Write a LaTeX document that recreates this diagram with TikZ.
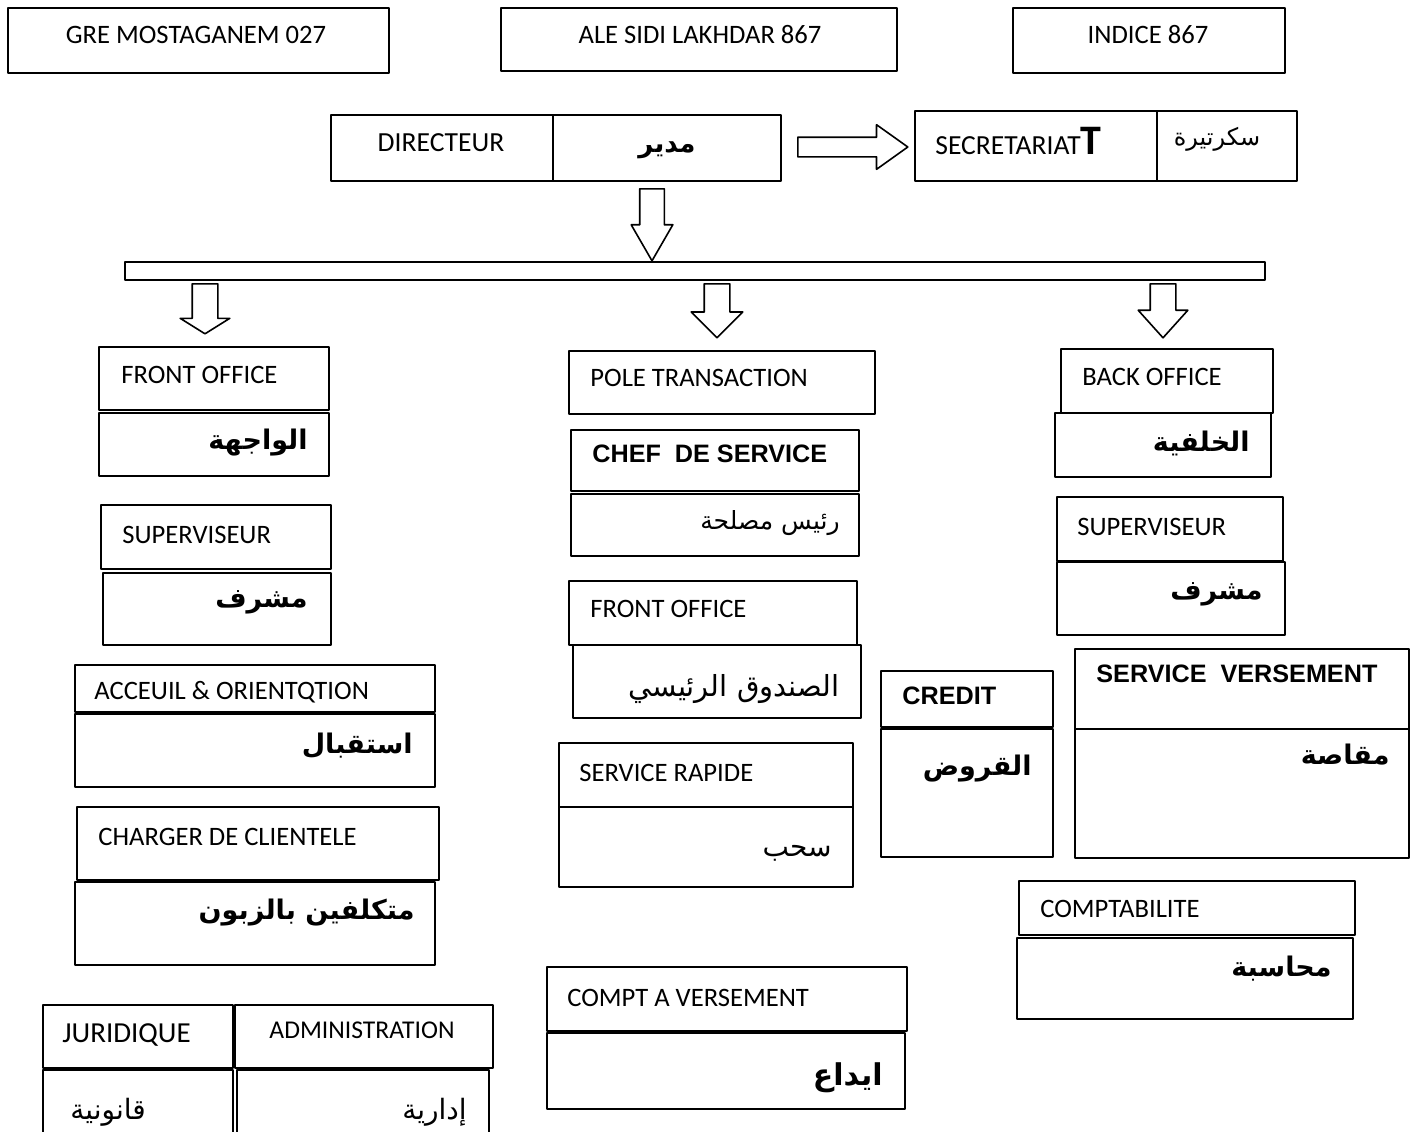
\documentclass[tikz,border=0pt]{standalone}
\usepackage{fontspec}
\setmainfont{Carlito}
\newfontfamily\arialfont{Liberation Sans}
\newfontfamily\arabicfont[Script=Arabic]{DejaVu Sans}
\TeXXeTstate=1
\usetikzlibrary{fit,shapes.arrows}
\newcommand{\ar}[1]{{\arabicfont\beginR #1\endR}}
\tikzset{
	boite/.style={draw, line width=1pt, inner sep=0pt, rectangle},
	lat/.style={font=\fontsize{13.3}{15}\selectfont, inner sep=0pt, anchor=west},
	gras/.style={font=\fontsize{12.6}{14}\selectfont\arialfont\bfseries, inner sep=0pt, anchor=west},
	arb/.style={font=\fontsize{13.5}{16}\selectfont\bfseries, inner sep=0pt, anchor=east},
	arn/.style={font=\fontsize{12.5}{16}\selectfont, inner sep=0pt, anchor=east},
	fleche/.style={draw, line width=0.8pt, single arrow, single arrow head indent=0pt, anchor=tail},
}
\begin{document}
\begin{tikzpicture}[x=0.5pt, y=-0.5pt, line cap=round, line join=round]
	\useasboundingbox (0,0) rectangle (1412,1131);
	\clip (0,0) rectangle (1412,1131);
	% En-tete
	\node[boite, fit={(8,8)(389,73)}] (gre) {};
	\node[lat, anchor=center] (greT) at (196,35) {GRE MOSTAGANEM 027};
	\node[boite, fit={(501,8)(897,71)}] (ale) {};
	\node[lat, anchor=center] (aleT) at (700,35) {ALE SIDI LAKHDAR 867};
	\node[boite, fit={(1013,8)(1285,73)}] (ind) {};
	\node[lat, anchor=center] (indT) at (1148,35) {INDICE 867};
	% Directeur et secretariat
	\node[boite, fit={(331,115)(553,181)}] (dir) {};
	\node[lat, anchor=center, font=\fontsize{13.8}{15}\selectfont] (dirT) at (441,143) {DIRECTEUR};
	\node[boite, fit={(553,115)(781,181)}] (dirA) {};
	\node[arb, anchor=center, font=\fontsize{13}{16}\selectfont\bfseries] (dirAT) at (667,150) {\ar{مدير}};
	\node[boite, fit={(915,111)(1157,181)}] (sec) {};
	\node[lat, anchor=base west, font=\fontsize{13.8}{15}\selectfont] (secT) at (935,154) {SECRETARIAT{\fontsize{21}{22}\selectfont\bfseries T}};
	\node[boite, fit={(1157,111)(1297,181)}] (secA) {};
	\node[arn, anchor=center, font=\fontsize{12}{15}\selectfont] (secAT) at (1217,139) {\ar{سكرتيرة}};
	% Fleches
	\node[fleche, shape border rotate=0, inner sep=4.5pt, minimum height=55pt, minimum width=21.5pt, single arrow head extend=6.25pt, single arrow tip angle=71] (f0) at (797,147) {};
	\node[fleche, shape border rotate=270, inner sep=5.75pt, minimum height=36pt, minimum width=20pt, single arrow head extend=4.25pt, single arrow tip angle=60] (f1) at (652,188) {};
	\node[boite, fit={(125,262)(1265,280)}] (barre) {};
	\node[fleche, shape border rotate=270, inner sep=6pt, minimum height=25pt, minimum width=24pt, single arrow head extend=6pt, single arrow tip angle=116] (f2) at (205,283) {};
	\node[fleche, shape border rotate=270, inner sep=6pt, minimum height=27pt, minimum width=25pt, single arrow head extend=6.5pt, single arrow tip angle=90] (f3) at (717,283) {};
	\node[fleche, shape border rotate=270, inner sep=6pt, minimum height=27pt, minimum width=24pt, single arrow head extend=6pt, single arrow tip angle=84] (f4) at (1163,283) {};
	% Colonne gauche
	\node[boite, fit={(99,347)(329,410)}] (fo1) {};
	\node[lat] (fo1T) at (121,375) {FRONT OFFICE};
	\node[boite, fit={(99,413)(329,476)}] (fo1A) {};
	\node[arb] (fo1AT) at (308,443) {\ar{الواجهة}};
	\node[boite, fit={(101,505)(331,569)}] (sup1) {};
	\node[lat] (sup1T) at (122,535) {SUPERVISEUR};
	\node[boite, fit={(103,573)(331,645)}] (sup1A) {};
	\node[arb] (sup1AT) at (308,602) {\ar{مشرف}};
	\node[boite, fit={(75,665)(435,712)}] (acc) {};
	\node[lat] (accT) at (94,692) {ACCEUIL \& ORIENTQTION};
	\node[boite, fit={(75,714)(435,787)}] (accA) {};
	\node[arb] (accAT) at (413,746) {\ar{استقبال}};
	\node[boite, fit={(77,807)(439,880)}] (chg) {};
	\node[lat] (chgT) at (98,837) {CHARGER DE CLIENTELE};
	\node[boite, fit={(75,882)(435,965)}] (chgA) {};
	\node[arb] (chgAT) at (415,913) {\ar{متكلفين بالزبون}};
	\node[boite, fit={(43,1005)(233,1068)}] (jur) {};
	\node[lat, font=\fontsize{14.5}{16}\selectfont] (jurT) at (62,1035) {JURIDIQUE};
	\node[boite, fit={(235,1005)(493,1068)}] (adm) {};
	\node[lat, anchor=center, font=\fontsize{12.8}{15}\selectfont] (admT) at (362,1030) {ADMINISTRATION};
	\node[boite, fit={(43,1070)(233,1150)}] (jurA) {};
	\node[arn, anchor=center, font=\fontsize{14}{16}\selectfont] (jurAT) at (108,1112) {\ar{قانونية}};
	\node[boite, fit={(237,1070)(489,1150)}] (admA) {};
	\node[arn, font=\fontsize{14}{16}\selectfont] (admAT) at (467,1112) {\ar{إدارية}};
	% Colonne centrale
	\node[boite, fit={(569,351)(875,414)}] (pole) {};
	\node[lat] (poleT) at (590,378) {POLE TRANSACTION};
	\node[boite, fit={(571,430)(859,491)}] (chef) {};
	\node[gras] (chefT) at (592,454) {CHEF\ \ DE SERVICE};
	\node[boite, fit={(571,494)(859,556)}] (chefA) {};
	\node[arn] (chefAT) at (840,523) {\ar{رئيس مصلحة}};
	\node[boite, fit={(569,581)(857,645)}] (fo2) {};
	\node[lat] (fo2T) at (590,609) {FRONT OFFICE};
	\node[boite, fit={(573,645)(861,718)}] (fo2A) {};
	\node[arn, font=\fontsize{14.5}{18}\selectfont] (fo2AT) at (840,689) {\ar{الصندوق الرئيسي}};
	\node[boite, fit={(559,743)(853,807)}] (rap) {};
	\node[lat] (rapT) at (579,773) {SERVICE RAPIDE};
	\node[boite, fit={(559,807)(853,887)}] (rapA) {};
	\node[arn, font=\fontsize{14}{16}\selectfont] (rapAT) at (832,853) {\ar{سحب}};
	\node[boite, fit={(547,967)(907,1031)}] (cav) {};
	\node[lat] (cavT) at (567,998) {COMPT A VERSEMENT};
	\node[boite, fit={(547,1033)(905,1109)}] (cavA) {};
	\node[arb, font=\fontsize{15}{18}\selectfont\bfseries] (cavAT) at (883,1078) {\ar{ايداع}};
	% Colonne droite
	\node[boite, fit={(1061,349)(1273,413)}] (bo) {};
	\node[lat] (boT) at (1082,377) {BACK OFFICE};
	\node[boite, fit={(1055,413)(1271,477)}] (boA) {};
	\node[arb] (boAT) at (1250,443) {\ar{الخلفية}};
	\node[boite, fit={(1057,497)(1283,561)}] (sup2) {};
	\node[lat] (sup2T) at (1077,527) {SUPERVISEUR};
	\node[boite, fit={(1057,562)(1285,635)}] (sup2A) {};
	\node[arb] (sup2AT) at (1263,594) {\ar{مشرف}};
	\node[boite, fit={(881,671)(1053,727)}] (cre) {};
	\node[gras] (creT) at (902,696) {CREDIT};
	\node[boite, fit={(881,729)(1053,857)}] (creA) {};
	\node[arb] (creAT) at (1032,769) {\ar{القروض}};
	\node[boite, fit={(1075,649)(1409,729)}] (sv) {};
	\node[gras] (svT) at (1096,674) {SERVICE\ \ VERSEMENT};
	\node[boite, fit={(1075,729)(1409,858)}] (svA) {};
	\node[arb] (svAT) at (1390,755) {\ar{مقاصة}};
	\node[boite, fit={(1019,881)(1355,935)}] (cpt) {};
	\node[lat] (cptT) at (1040,909) {COMPTABILITE};
	\node[boite, fit={(1017,938)(1353,1019)}] (cptA) {};
	\node[arb] (cptAT) at (1332,969) {\ar{محاسبة}};
\end{tikzpicture}
\end{document}
